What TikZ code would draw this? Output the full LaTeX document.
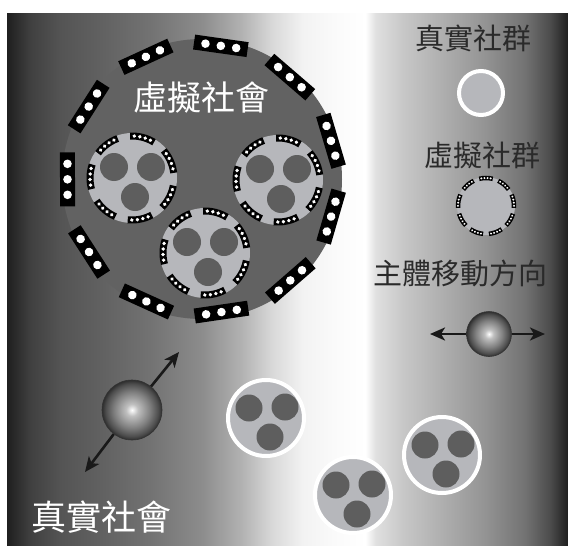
\documentclass[tikz,border=0pt]{standalone}
\usepackage{fontspec}
\setmainfont{Noto Sans CJK TC}
\usetikzlibrary{arrows.meta}

\definecolor{virtualgray}{HTML}{626262}
\definecolor{groupfill}{HTML}{B6B7BB}
\definecolor{membergray}{HTML}{5E5E5E}
\definecolor{legendtext}{HTML}{2A2A2A}

\pgfdeclarehorizontalshading{societyshade}{100bp}{
  color(0bp)=(black!88); color(25bp)=(black!88); color(27.07bp)=(black!75);
  color(29.77bp)=(black!67); color(33.36bp)=(black!62); color(37.86bp)=(black!55);
  color(42.36bp)=(black!45); color(45.96bp)=(black!30); color(48.65bp)=(black!15);
  color(51.35bp)=(black!5); color(54.05bp)=(black!2); color(56.93bp)=(white);
  color(57.83bp)=(black!12); color(60.34bp)=(black!22); color(63.94bp)=(black!32);
  color(67.54bp)=(black!42); color(71.13bp)=(black!55); color(73.38bp)=(black!70);
  color(75bp)=(black!88); color(100bp)=(black!88)}
\pgfdeclareradialshading{egoball}{\pgfpoint{0bp}{0bp}}{
  color(0bp)=(white); color(5bp)=(black!25); color(15bp)=(black!50);
  color(22bp)=(black!70); color(25bp)=(black!82); color(50bp)=(black!82)}

\begin{document}
\begin{tikzpicture}[x=1pt, y=-1pt,
    society/.style = {circle, inner sep=0pt, fill=virtualgray, minimum size=280pt},
    group/.style = {circle, inner sep=0pt, fill=groupfill, minimum size=#1},
    realring/.style = {draw=white, line width=4pt},
    member/.style = {fill=membergray},
    ego/.style = {circle, inner sep=0pt, shading=egoball, draw=black!80, line width=0.6pt, minimum size=#1},
    move/.style = {-{Stealth[length=15pt, width=13pt, inset=4pt]}, line width=2.6pt, black!90},
    bigtitle/.style = {text=white, font=\fontsize{34}{34}\selectfont},
    legend/.style = {text=legendtext, font=\fontsize{29}{29}\selectfont}
  ]
  \useasboundingbox (0,0) rectangle (568,546);
  \shade[shading=societyshade] (7,13) rectangle (568,546);

  % virtual society
  \node[society] (vs) at (202,179) {};
  \begin{scope}[shift={(vs.center)}]
    \foreach \k [evaluate=\k as \a using 16.5+32.727*\k] in {0,...,10} {
      \begin{scope}[rotate=\a]
        \fill[black] (127,-27) rectangle (142,27);
        \foreach \d in {-15.5,0,15.5} \fill[white] (134.5,\d) circle (4.3);
      \end{scope}
    }
  \end{scope}
  \node[bigtitle] (vstitle) at (201,98) {虛擬社會};

  % virtual groups inside
  \foreach \name/\pos in {vga/{(132,178)}, vgb/{(278,180)}, vgc/{(205,253)}} {
    \node[group=90pt] (\name) at \pos {};
    \begin{scope}[shift={(\name.center)}]
      \foreach \m in {(-18,-11), (19,-11), (3,19)}
        \fill[member] \m circle (14);
      \foreach \k [evaluate=\k as \a using 24+51.43*\k] in {0,...,6} {
        \begin{scope}[rotate=\a]
          \draw[black, line width=7pt] (-17:42) arc[start angle=-17, end angle=17, radius=42];
          \foreach \t in {-11.4,-3.8,3.8,11.4} \fill[white] (\t:42) circle (1.9);
        \end{scope}
      }
    \end{scope}
  }

  % real groups
  \foreach \name/\pos in {rga/{(266,418)}, rgb/{(353,495)}, rgc/{(442,455)}} {
    \node[group=76pt, realring] (\name) at \pos {};
    \begin{scope}[shift={(\name.center)}]
      \foreach \m in {(-17,-10), (19,-11), (4,19)}
        \fill[member] \m circle (13.5);
    \end{scope}
  }

  % persons
  \node[ego=60pt] (ego) at (132,410) {};
  \coordinate (egoup) at (179,352);
  \coordinate (egodown) at (85,472);
  \draw[move] (ego) -- (egoup);
  \draw[move] (ego) -- (egodown);
  \node[bigtitle, font=\fontsize{35}{35}\selectfont] (rstitle) at (101,517) {真實社會};

  % legend
  \node[legend] (realkey) at (473,38) {真實社群};
  \node[group=44pt, realring] (realicon) at (481,93) {};
  \node[legend] (virtualkey) at (482,155) {虛擬社群};
  \node[group=58pt] (virtualicon) at (486,206) {};
  \begin{scope}[shift={(virtualicon.center)}]
    \foreach \k [evaluate=\k as \a using 10+40*\k] in {0,...,8} {
      \begin{scope}[rotate=\a]
        \draw[black, line width=4.5pt] (-14:28) arc[start angle=-14, end angle=14, radius=28];
        \foreach \t in {-9.6,-3.2,3.2,9.6} \fill[white] (\t:28) circle (1.1);
      \end{scope}
    }
  \end{scope}
  \node[legend] (movekey) at (460,273) {主體移動方向};
  \node[ego=45pt] (egokey) at (489,334) {};
  \coordinate (keyleft) at (430,334);
  \coordinate (keyright) at (545,334);
  \draw[move] (egokey) -- (keyleft);
  \draw[move] (egokey) -- (keyright);
\end{tikzpicture}
\end{document}
